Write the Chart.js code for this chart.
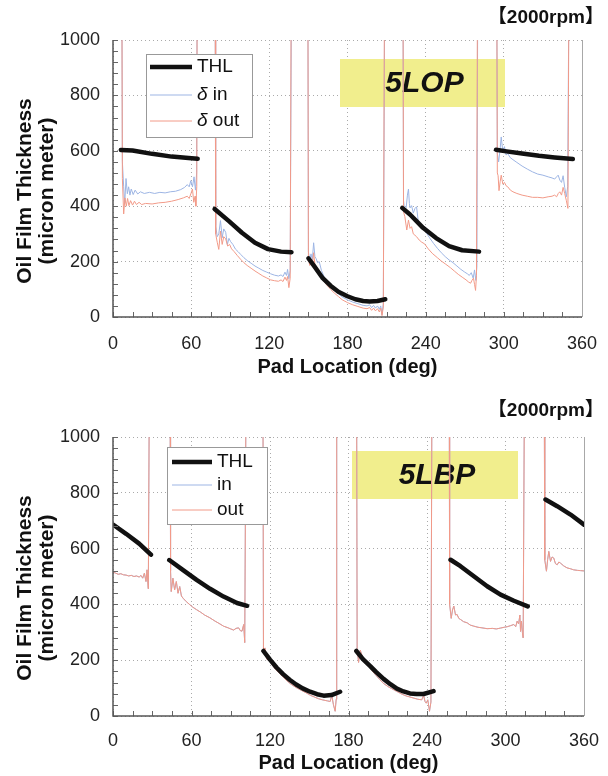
<!DOCTYPE html>
<html>
<head>
<meta charset="utf-8">
<script src="https://cdn.jsdelivr.net/npm/chart.js@4.4.1/dist/chart.umd.min.js"></script>
<style>
  html, body { margin: 0; padding: 0; background: #fff; }
  canvas { display: block; }
</style>
</head>
<body>
<canvas id="lop" width="608" height="388"></canvas>
<canvas id="lbp" width="608" height="388"></canvas>
<script>
// [deg, micron]; a null value breaks the line, 1200 = off the top of the chart
const xTicks = [0, 60, 120, 180, 240, 300, 360]
const yTicks = [0, 200, 400, 600, 800, 1000]

const lopThl = [
    [6,603],[15,601],[30,589],[45,579],[58,574],[65,571],[65,null],
    [78,390],[89,346],[99,304],[109,268],[119,245],[129,236],[137,234],[137,null],
    [150,212],[155,180],[161,140],[167,113],[173,91],[180,75],[186,64],[192,58],[197,56],[203,58],[209,64],[209,null],
    [222,394],[228,370],[238,322],[248,285],[258,256],[268,241],[281,236],[281,null],
    [294,604],[302,598],[314,590],[327,582],[339,576],[353,570]
]
const lopIn = [
    [0,1200],[6.8,1200],[7.2,560],[8.2,470],[9,410],[10,500],[11,445],[12,470],[13,440],[14,462],[15.5,442],[17,458],[19,444],
    [21,452],[24,446],[28,450],[32,446],[36,450],[40,448],[44,452],[48,454],[52,460],[55,468],[57,478],[58.5,470],[59.7,492],
    [61,470],[62.2,506],[63.3,458],[64.2,520],[64.6,1200],
    [78.4,1200],[78.8,330],[80,290],[81.2,300],[82.5,348],[83.8,286],[85,318],[86.5,306],[87.8,262],[89,284],[90.3,272],[92,262],
    [94,245],[96,236],[98,226],[100.5,214],[103,204],[106,194],[109,184],[112,176],[115,168],[118,162],[121,156],[124,151],
    [127,148],[129,152],[130.5,146],[132,162],[133.2,150],[134,172],[135,138],[136,168],[137,1200],
    [149.6,1200],[150,235],[151,205],[152,228],[153,206],[154,268],[155,218],[156,210],[157,196],[158.3,200],[160,168],[162,146],
    [164,130],[167,112],[170,96],[173,84],[176,72],[180,62],[184,54],[188,48],[192,42],[195,40],[197,44],[198.5,34],[200,42],
    [201.5,32],[203,40],[204.5,28],[205.5,40],[206.5,8],[207.5,48],[208.6,1200],
    [222.6,1200],[223,420],[224,380],[225,394],[226,440],[226.8,462],[227.5,410],[228,394],[229.2,402],[230.5,375],[231.8,392],
    [233,398],[234.2,350],[236,336],[238,322],[240,308],[243,286],[246,266],[249,248],[252,232],[255,218],[258,206],[261,196],
    [264,184],[267,172],[270,162],[272,156],[273.5,150],[275,160],[276.5,140],[277.5,170],[278.5,132],[279.3,180],[280,1200],
    [294.6,1200],[295,590],[296,560],[297,600],[298,650],[299.2,598],[300.5,615],[301.7,585],[303,590],[305,575],[307,568],
    [310,558],[314,545],[318,534],[322,524],[326,516],[330,512],[334,506],[337,502],[339,498],[340.5,506],[341.7,512],[343,494],
    [344.3,486],[345.5,510],[346.7,468],[348,434],[349,470],[350,1200],[360,1200]
]
const lopOut = [
    [0,1200],[6.8,1200],[7.2,500],[8.2,372],[9.2,430],[10.2,400],[11.2,428],[12.2,402],[13.5,420],[15,404],[16.5,418],[18,406],
    [20,414],[22,406],[25,410],[30,408],[35,412],[40,414],[45,418],[50,424],[54,430],[57,436],[58.5,428],[60,448],[61,462],
    [62,414],[63,436],[63.6,400],[64.3,470],[64.6,1200],
    [78.4,1200],[78.8,300],[80,270],[81.2,244],[82.5,310],[83.8,262],[85,290],[86.5,282],[88,256],[89.5,262],[91,246],[93,236],
    [95.4,222],[98,208],[100.5,196],[103,186],[106,176],[109,166],[112,157],[115,148],[118,141],[121,134],[124,131],[127,129],
    [129,134],[130.5,128],[132,144],[133.2,132],[134,146],[135,106],[136,140],[136.8,1200],
    [149.6,1200],[150,210],[151,186],[152,200],[153,184],[154,232],[155,188],[156,178],[158,162],[160,144],[162,128],[164,116],
    [167,100],[170,86],[173,74],[176,62],[180,52],[184,44],[188,38],[192,32],[195,30],[197,34],[198.5,24],[200,32],[201.5,22],
    [203,30],[204.5,18],[205.5,32],[206.5,5],[207.5,36],[208.4,1200],
    [222.6,1200],[223,380],[224,363],[225.5,314],[226.8,350],[228,320],[229.2,326],[230.5,300],[231.8,295],[233,290],[235,278],
    [237,270],[239.2,264],[242,246],[245,230],[249,214],[252,202],[255,192],[259,178],[262,166],[265,154],[268,144],[271,134],
    [273,126],[274.5,122],[275.5,132],[276.7,140],[277.5,118],[278.3,96],[279,150],[279.8,1200],
    [294.6,1200],[295,520],[295.6,510],[296.3,456],[297.2,490],[298,512],[299.2,480],[300.5,486],[301.7,474],[303,470],[305,458],
    [307,452],[310,446],[314,440],[318,436],[322,432],[326,432],[330,430],[334,434],[337,436],[339,440],[340.5,434],[341.8,446],
    [343,452],[344.3,440],[345.5,468],[346.7,446],[348,420],[349.2,392],[350,1200],[360,1200]
]

const lbpThl = [
    [0,686],[10,653],[20,618],[29,578],[29,null],
    [43,559],[53.6,523],[63.9,488],[74.2,456],[84.5,428],[94.8,405],[102.5,395],[102.5,null],
    [115,233],[120,202],[125,174],[130,150],[135,130],[140,113],[145,99],[150.6,87],[156,78],[161,73],[167,75],[173.6,87],[173.6,null],
    [186,233],[191,204],[196.6,179],[201,158],[206.8,133],[212,114],[217,98],[222,88],[227,81],[232,79],[237.4,79],[245,89],[245,null],
    [258,560],[265.6,537],[275.8,501],[286,465],[296.2,435],[306.4,413],[317,393],[317,null],
    [330.6,776],[339.5,752],[349.7,722],[360,686]
]
const lbpOut = [
    [0,516],[2,512],[4,508],[6,510],[8,506],[10,505],[12,502],[14,504],[16,500],[18,502],[20,498],[21.4,504],[22.7,494],[24,512],
    [25.2,482],[26,524],[27,456],[27.8,1200],
    [43.6,1200],[44,520],[44.5,446],[45.8,494],[47.1,452],[48.4,482],[49.7,440],[51,464],[52.3,430],[53.6,422],[56,410],[58.7,399],
    [61,390],[63.9,381],[67,372],[70,362],[74,352],[78,340],[81,332],[84.5,322],[88,316],[90,312],[92.2,308],[94,314],[96,316],
    [97.3,306],[98.6,304],[99.9,328],[100.7,263],[101.7,1200],
    [114.6,1200],[115,236],[116.2,244],[117.4,204],[119,200],[121,188],[124,168],[127,154],[130,140],[133,126],[136,114],[140,102],
    [144,92],[148,82],[151,74],[154,68],[157,62],[160,58],[162,56],[164,54],[166,52],[167.2,74],[168.5,40],[169.8,17],[170.6,60],[171,1200],
    [186.2,1200],[186.6,243],[187.7,192],[189,236],[190.5,214],[192,206],[195,182],[198,162],[201,146],[204,130],[207,116],[210,106],
    [213,98],[217,88],[221,78],[224,72],[227,68],[230,64],[233,60],[236,58],[237.4,74],[238.5,52],[239.4,46],[240.6,58],[241.9,17],
    [243,50],[243.8,1200],
    [257,1200],[257.3,400],[258.5,350],[259.5,380],[260.5,394],[261.8,362],[263,364],[264.3,350],[265.6,346],[268,338],[270.7,334],
    [273,326],[275.8,322],[279,318],[282,316],[286,313],[290,314],[293,312],[296,315],[299,318],[301.3,320],[304,324],[306.4,328],
    [307.8,320],[308.9,340],[310,330],[311,362],[311.5,303],[312.2,340],[312.9,300],[313.5,280],[314.5,1200],
    [329.6,1200],[330,560],[331.3,519],[332.2,560],[333.1,590],[334.4,554],[335.6,570],[336.9,566],[338.2,546],[339.5,542],
    [340.8,552],[342,548],[344.5,538],[347,531],[349.5,528],[352,524],[355,522],[357.5,521],[360,520]
]
// "in" is hidden under "out" on the 5LBP chart
const lbpIn = lbpOut

const FONT = '"Liberation Sans", Arial, sans-serif'
const inColor = '#9db5e4'
const outColor = '#f29a88'

const toXY = pts => pts.map(p => ({x: p[0], y: p[1]}))

// minor ticks, axis frame
const framePlugin = {
    id: 'frame',
    afterDatasetsDraw(chart) {
        const {ctx, chartArea: a, scales: {x, y}} = chart
        ctx.save()
        ctx.strokeStyle = '#666'
        ctx.lineWidth = 1
        ctx.beginPath()
        for (let v = 0; v <= 360; v += 15) {
            const px = Math.round(x.getPixelForValue(v)) + 0.5
            ctx.moveTo(px, a.bottom)
            ctx.lineTo(px, a.bottom - 5)
        }
        for (let v = 0; v <= 1000; v += 40) {
            const py = Math.round(y.getPixelForValue(v)) + 0.5
            ctx.moveTo(a.left, py)
            ctx.lineTo(a.left + 5, py)
        }
        ctx.stroke()
        ctx.strokeStyle = '#a8a8a8'
        ctx.beginPath()
        ctx.moveTo(a.right + 0.5, a.top)
        ctx.lineTo(a.right + 0.5, a.bottom)
        ctx.stroke()
        ctx.strokeStyle = '#555'
        ctx.lineWidth = 1.5
        ctx.beginPath()
        ctx.moveTo(a.left, a.top)
        ctx.lineTo(a.left, a.bottom)
        ctx.lineTo(a.right, a.bottom)
        ctx.stroke()
        ctx.restore()
    }
}

// yellow name box, legend box, y title, rpm note
const decorPlugin = {
    id: 'decor',
    beforeDatasetsDraw(chart, args, o) {
        const ctx = chart.ctx
        ctx.save()
        ctx.fillStyle = '#f1ee8d'
        ctx.fillRect(o.box[0], o.box[1], o.box[2], o.box[3])
        ctx.fillStyle = '#111'
        ctx.font = 'italic bold 30px ' + FONT
        ctx.textAlign = 'center'
        ctx.textBaseline = 'middle'
        ctx.fillText(o.name, o.box[0] + o.box[2] / 2 + 2, o.box[1] + o.box[3] / 2 + 1)
        ctx.restore()
    },
    afterDraw(chart, args, o) {
        const ctx = chart.ctx
        const lg = o.legend
        ctx.save()
        ctx.fillStyle = '#fff'
        ctx.strokeStyle = '#999'
        ctx.lineWidth = 1
        ctx.fillRect(lg.x, lg.y, lg.w, lg.h)
        ctx.strokeRect(lg.x + 0.5, lg.y + 0.5, lg.w, lg.h)
        const rows = [
            {color: '#111', width: 4.5, label: 'THL'},
            {color: inColor, width: 1, label: 'in'},
            {color: outColor, width: 1, label: 'out'}
        ]
        ctx.textBaseline = 'middle'
        ctx.textAlign = 'left'
        rows.forEach((r, i) => {
            const ry = lg.rows[i]
            ctx.strokeStyle = r.color
            ctx.lineWidth = r.width
            ctx.beginPath()
            ctx.moveTo(lg.x0, ry)
            ctx.lineTo(lg.x1, ry)
            ctx.stroke()
            ctx.fillStyle = '#111'
            let tx = lg.tx
            if (i > 0 && o.delta) {
                ctx.font = 'italic 19px ' + FONT
                ctx.fillText('δ', tx, ry)
                tx += ctx.measureText('δ ').width
            }
            ctx.font = '19px ' + FONT
            ctx.fillText(r.label, tx, ry)
        })
        // y axis title, two lines
        ctx.save()
        ctx.translate(25, o.titleY)
        ctx.rotate(-Math.PI / 2)
        ctx.textAlign = 'center'
        ctx.font = 'bold 21px ' + FONT
        ctx.fillText('Oil Film Thickness', 0, 0)
        ctx.fillText('(micron meter)', 0, 22)
        ctx.restore()
        ctx.font = 'bold 19px ' + FONT + ', "Noto Sans CJK JP"'
        ctx.textAlign = 'right'
        ctx.fillStyle = '#111'
        ctx.fillText('【2000rpm】', 604, o.rpmY)
        ctx.restore()
    }
}

const makeChart = (id, thl, din, dout, pad, decor) => {
    var ctx = document.getElementById(id).getContext('2d')
    return new Chart(ctx, {
        type: 'line',
        data: {
            datasets: [
                {data: toXY(din), borderColor: inColor, borderWidth: 1, order: 2},
                {data: toXY(dout), borderColor: outColor, borderWidth: 1, order: 1},
                {data: toXY(thl), borderColor: '#111', borderWidth: 4.5, borderCapStyle: 'round', borderJoinStyle: 'round', order: 0}
            ]
        },
        options: {
            responsive: false,
            animation: false,
            devicePixelRatio: 1,
            layout: {padding: {top: pad.top, right: pad.right, left: 0, bottom: 0}},
            elements: {point: {radius: 0}, line: {tension: 0}},
            plugins: {
                legend: {display: false},
                tooltip: {enabled: false},
                decor: decor
            },
            scales: {
                x: {
                    type: 'linear', min: 0, max: 360,
                    afterBuildTicks: s => { s.ticks = xTicks.map(v => ({value: v})) },
                    afterFit: s => { s.height = pad.xh; s.paddingLeft = 0; s.paddingRight = 0 },
                    grid: {color: '#aaa', drawTicks: false},
                    border: {display: false, dash: [1, 3]},
                    ticks: {padding: pad.tickPad, color: '#222', font: {family: FONT, size: 18}, callback: v => String(v)},
                    title: {display: true, text: 'Pad Location (deg)', color: '#111',
                        font: {family: FONT, size: 20, weight: 'bold'}, padding: {top: 0, bottom: pad.titleBottom}}
                },
                y: {
                    min: 0, max: 1000,
                    afterBuildTicks: s => { s.ticks = yTicks.map(v => ({value: v})) },
                    afterFit: s => { s.width = 113; s.paddingTop = 0; s.paddingBottom = 0 },
                    grid: {color: '#aaa', drawTicks: false},
                    border: {display: false, dash: [1, 3]},
                    ticks: {padding: 13, color: '#222', font: {family: FONT, size: 18}, callback: v => String(v)}
                }
            }
        },
        plugins: [framePlugin, decorPlugin]
    })
}

makeChart('lop', lopThl, lopIn, lopOut,
    {top: 40, right: 26, xh: 71, tickPad: 16, titleBottom: 9},
    {name: '5LOP', box: [340, 59, 165, 48], rpmY: 18, titleY: 191, delta: true,
     legend: {x: 146, y: 54, w: 106, h: 83, rows: [67, 95, 121], x0: 150, x1: 192, tx: 197}})

makeChart('lbp', lbpThl, lbpIn, lbpOut,
    {top: 49, right: 24, xh: 60, tickPad: 14, titleBottom: 1},
    {name: '5LBP', box: [352, 63, 166, 48], rpmY: 23, titleY: 200, delta: false,
     legend: {x: 167, y: 59, w: 100, h: 77, rows: [74, 97, 122], x0: 172, x1: 212, tx: 217}})
</script>
</body>
</html>
